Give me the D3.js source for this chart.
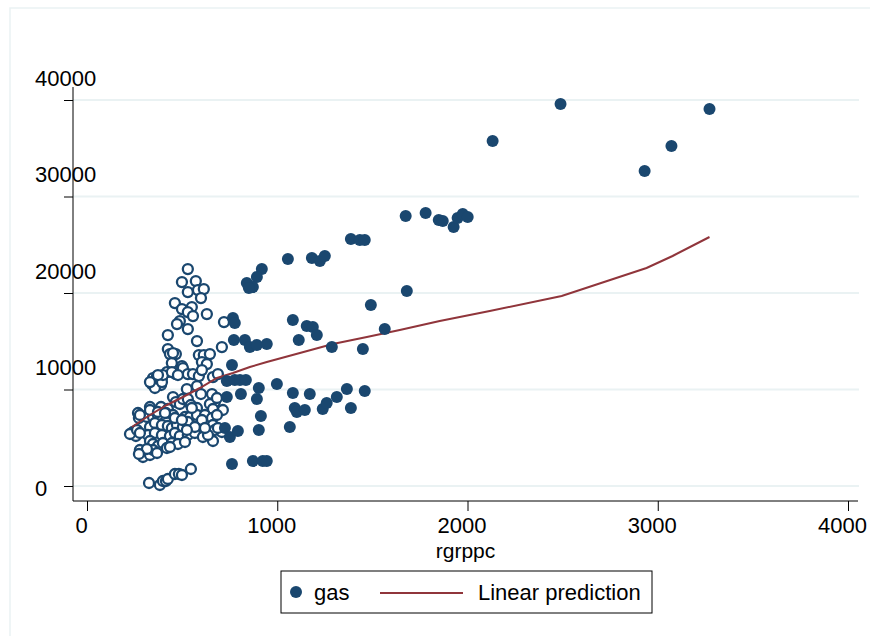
<!DOCTYPE html>
<html>
<head>
<meta charset="utf-8">
<script src="https://cdn.jsdelivr.net/npm/d3@7"></script>
<style>
  body { margin: 0; background: #fff; }
  svg { display: block; font-family: "Liberation Sans", Arial, sans-serif; }
</style>
</head>
<body>
<svg id="chart" width="870" height="636"></svg>
<script>
// tick values
const xTicks = [0, 1000, 2000, 3000, 4000];
const yTicks = [0, 10000, 20000, 30000, 40000];

// gas (hollow markers)
const hollowX = [530, 499, 572, 530, 583, 614, 599, 462, 499, 551, 530, 557, 630, 720, 488, 473, 530, 425, 578, 709,
  425, 436, 467, 588, 614, 646, 604, 446, 499, 630, 347, 341, 368, 394, 389, 357, 420, 467, 504, 530,
  557, 588, 604, 662, 688, 525, 578, 452, 467, 488, 504, 530, 546, 578, 599, 657, 672, 646, 662, 714,
  331, 389, 425, 268, 242, 257, 273, 315, 347, 373, 415, 452, 473, 515, 541, 578, 620, 657, 662, 672,
  331, 357, 394, 425, 446, 473, 504, 530, 320, 357, 394, 436, 462, 488, 530, 567, 609, 662, 331, 347,
  373, 399, 446, 478, 515, 278, 294, 331, 347, 315, 368, 420, 436, 326, 383, 399, 415, 425, 462, 483,
  499, 546, 226, 263, 273, 331, 394, 399, 452, 683, 709, 636, 688, 683, 551, 604, 530, 567, 620, 373,
  446, 478, 331, 278, 278, 373, 410, 462, 499, 525];
const hollowY = [22480, 21134, 21238, 20098, 20306, 20409, 19477, 18959, 18337, 18544, 18026, 17612, 17819, 16990, 17094, 16783, 16265, 15644, 15022, 14400,
  14193, 13675, 13675, 13572, 13572, 13675, 12846, 12743, 12432, 12639, 11189, 10567, 11396, 11189, 10464, 10153, 11810, 11603, 12225, 11603,
  11603, 11396, 12018, 11292, 11603, 10049, 10360, 9220, 8702, 8495, 9013, 9013, 8392, 8081, 9531, 9531, 8702, 8495, 7977, 7874,
  8184, 8184, 7977, 7563, 5594, 5180, 7045, 7148, 7148, 7356, 7563, 7356, 6838, 7148, 7148, 7356, 7356, 7045, 6320, 5802,
  6112, 6527, 6320, 6216, 6009, 6320, 6112, 6320, 5284, 5491, 5284, 5180, 5491, 5180, 5284, 5491, 5076, 4662, 4662, 4351,
  4144, 4455, 4455, 4351, 4558, 3730, 3004, 3212, 3730, 3833, 3419, 3937, 4040, 311, 104, 518, 518, 725, 1243, 1243,
  1140, 1761, 5387, 5802, 3315, 10774, 10774, 11500, 13779, 9117, 5594, 5284, 6009, 7356, 8081, 6838, 6630, 6112, 6009, 11500,
  11810, 11500, 7874, 7356, 5491, 7666, 7563, 7045, 6838, 5802];

// gas (filled markers)
const filledX = [2489, 3272, 2132, 3072, 2931, 1675, 1780, 1849, 1870, 1927, 1948, 1975, 2001, 1387, 1434, 1460, 1056, 1182, 1224, 1250,
  919, 893, 872, 840, 851, 1681, 1492, 1082, 1155, 1187, 1208, 767, 777, 1565, 772, 830, 856, 893, 945, 1113,
  1287, 1450, 762, 735, 777, 804, 835, 998, 903, 1082, 1171, 1366, 1460, 1313, 735, 809, 893, 1092, 1103, 1145,
  1239, 1260, 1387, 914, 725, 751, 793, 903, 1066, 762, 872, 924, 945];
const filledY = [39575, 39057, 35742, 35224, 32634, 27972, 28283, 27558, 27454, 26832, 27765, 28179, 27868, 25589, 25486, 25486, 23517, 23621, 23310, 23828,
  22481, 21652, 20616, 21031, 20513, 20202, 18752, 17198, 16576, 16472, 15644, 17405, 16887, 16265, 15126, 15126, 14400, 14608, 14711, 15126,
  14400, 14193, 12536, 10878, 10982, 10982, 10982, 10567, 10153, 9635, 9531, 10049, 9842, 9220, 9220, 9531, 9013, 8081, 7666, 7874,
  7977, 8599, 8081, 7252, 6009, 5076, 5698, 5802, 6112, 2279, 2590, 2590, 2590];

// Linear prediction
const fitX = [236, 331, 420, 504, 593, 683, 767, 856, 945, 1119, 1292, 1471, 1644, 1854, 2117, 2495, 2941, 3078, 3272];
const fitY = [6114, 7358, 8394, 9223, 10155, 11192, 11710, 12332, 12850, 13782, 14715, 15440, 16166, 17098, 18135, 19689, 22591, 23834, 25803];

const navy = "#1a476f";
const red = "#90353b";
const grid = "#eaf2f3";
const fmt = d3.format("d");

const svg = d3.select("#chart");
const plot = {left: 73, right: 858, top: 87, bottom: 501};

const x = d3.scaleLinear().domain([0, 4000]).range([87, 848]);
const y = d3.scaleLinear().domain([0, 40000]).range([486, 100]);

// outer frame
svg.append("rect")
    .attr("x", 10).attr("y", 8)
    .attr("width", 880).attr("height", 650)
    .attr("fill", "none")
    .attr("stroke", grid)
    .attr("stroke-width", 1.5);

// gridlines
svg.append("g").selectAll("line")
    .data(yTicks)
    .enter().append("line")
    .attr("x1", plot.left).attr("x2", plot.right + 1)
    .attr("y1", d => y(d)).attr("y2", d => y(d))
    .attr("stroke", grid)
    .attr("stroke-width", 2);

// y axis
const yAxis = svg.append("g")
    .attr("transform", `translate(${plot.left},0)`)
    .call(d3.axisLeft(y).tickValues(yTicks).tickFormat(fmt).tickSize(9).tickSizeOuter(0));
yAxis.select(".domain").remove();
yAxis.selectAll(".tick line").attr("stroke", "#000");
yAxis.selectAll(".tick text")
    .attr("x", 35 - plot.left)
    .attr("dy", null)
    .attr("y", d => d === 0 ? 9 : -15)
    .attr("text-anchor", "start")
    .attr("font-size", 22)
    .attr("font-family", "Liberation Sans, Arial, sans-serif")
    .attr("fill", "#000");

// x axis
const xAxis = svg.append("g")
    .attr("transform", `translate(0,${plot.bottom})`)
    .call(d3.axisBottom(x).tickValues(xTicks).tickFormat(fmt).tickSize(10).tickSizeOuter(0));
xAxis.select(".domain").remove();
xAxis.selectAll(".tick line").attr("stroke", "#000");
xAxis.selectAll(".tick text")
    .attr("dy", null)
    .attr("y", 32)
    .attr("x", -6)
    .attr("font-size", 22)
    .attr("font-family", "Liberation Sans, Arial, sans-serif")
    .attr("fill", "#000");

// axis lines
svg.append("line")
    .attr("x1", plot.left).attr("x2", plot.left)
    .attr("y1", plot.top).attr("y2", plot.bottom)
    .attr("stroke", "#000");
svg.append("line")
    .attr("x1", plot.left).attr("x2", plot.right)
    .attr("y1", plot.bottom).attr("y2", plot.bottom)
    .attr("stroke", "#000");

// hollow markers
svg.append("g").selectAll("circle")
    .data(d3.zip(hollowX, hollowY))
    .enter().append("circle")
    .attr("cx", d => x(d[0]))
    .attr("cy", d => y(d[1]))
    .attr("r", 5)
    .attr("fill", "#fff")
    .attr("stroke", navy)
    .attr("stroke-width", 2.3);

// fitted line
const line = d3.line()
    .x(d => x(d[0]))
    .y(d => y(d[1]));

svg.append("path")
    .datum(d3.zip(fitX, fitY))
    .attr("fill", "none")
    .attr("stroke", red)
    .attr("stroke-width", 2)
    .attr("d", line);

// filled markers
svg.append("g").selectAll("circle")
    .data(d3.zip(filledX, filledY))
    .enter().append("circle")
    .attr("cx", d => x(d[0]))
    .attr("cy", d => y(d[1]))
    .attr("r", 6)
    .attr("fill", navy);

// x title
svg.append("text")
    .attr("x", (plot.left + plot.right) / 2)
    .attr("y", 558)
    .attr("text-anchor", "middle")
    .attr("font-size", 21)
    .text("rgrppc");

// legend
const legend = svg.append("g");
legend.append("rect")
    .attr("x", 281).attr("y", 571)
    .attr("width", 371).attr("height", 42)
    .attr("fill", "#fff")
    .attr("stroke", "#000");
legend.append("circle")
    .attr("cx", 296).attr("cy", 592)
    .attr("r", 6)
    .attr("fill", navy);
legend.append("text")
    .attr("x", 314).attr("y", 600)
    .attr("font-size", 22)
    .text("gas");
legend.append("line")
    .attr("x1", 380).attr("x2", 463)
    .attr("y1", 593).attr("y2", 593)
    .attr("stroke", red)
    .attr("stroke-width", 2);
legend.append("text")
    .attr("x", 478).attr("y", 600)
    .attr("font-size", 22)
    .text("Linear prediction");
</script>
</body>
</html>
